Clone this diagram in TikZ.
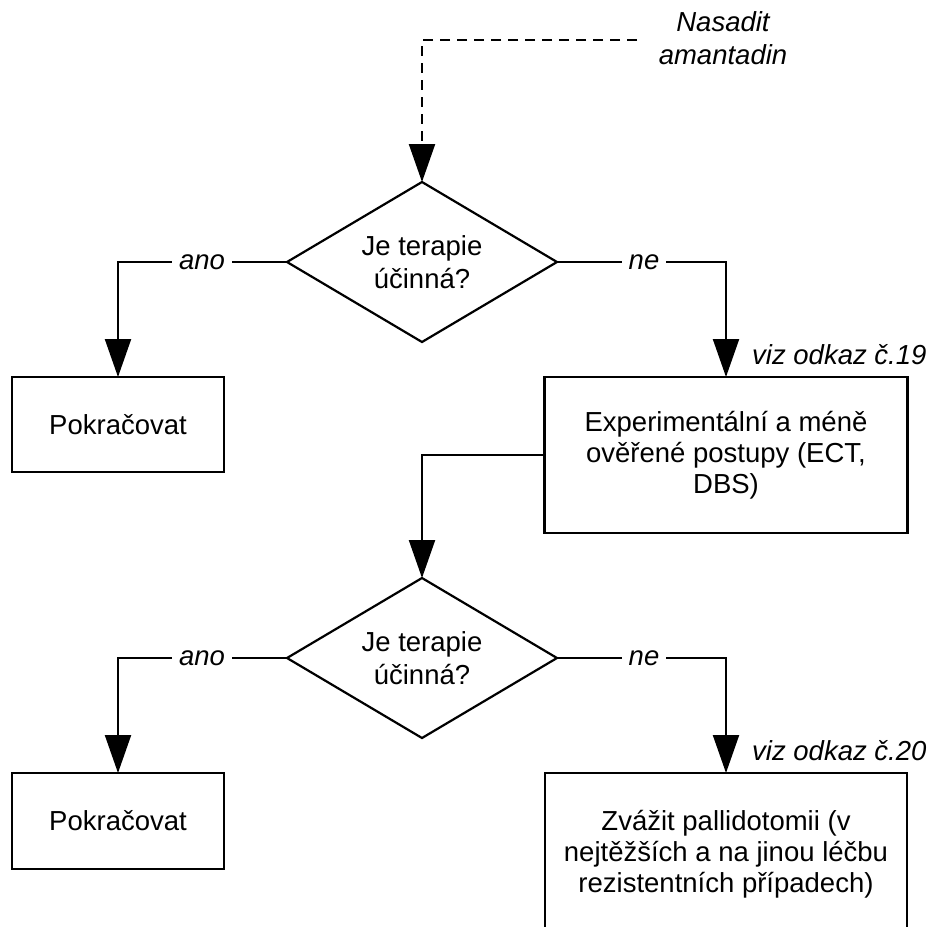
\documentclass[tikz,border=0pt]{standalone}
\usepackage{fontspec}
\setmainfont{Liberation Sans}
\usetikzlibrary{shapes.geometric,arrows.meta}
\begin{document}
\begin{tikzpicture}[x=1pt,y=-1pt,
  every node/.style={font=\fontsize{27.5}{33}\selectfont},
  box/.style={draw, line width=2.4pt, rectangle, align=center, inner sep=0pt, outer sep=0pt, font=\fontsize{27.5}{31}\selectfont},
  decision/.style={draw, line width=2.2pt, diamond, aspect=1.6875, minimum width=270pt, minimum height=160pt, inner sep=0pt, outer sep=0pt, align=center},
  conn/.style={line width=2.2pt, -{Triangle[length=38pt,width=26pt]}},
  lbl/.style={fill=white, inner xsep=7pt, inner ysep=2pt, font=\fontsize{27.5}{33}\selectfont\itshape},
  note/.style={font=\fontsize{27.5}{33}\selectfont\itshape, align=center, inner sep=0pt}
]
\path[use as bounding box, clip] (0,0) rectangle (931,926);

% nodes
\node[note] (start) at (723,38) {Nasadit\\amantadin};
\coordinate (s0) at (637,40);
\node[decision] (d1) at (422,262) {Je terapie\\účinná?};
\node[box, minimum width=212pt, minimum height=95pt] (p1) at (118,424.5) {Pokračovat};
\node[box, minimum width=363pt, minimum height=156pt] (e1) at (726,455) {Experimentální a méně\\ověřené postupy (ECT,\\DBS)};
\node[decision] (d2) at (422,658) {Je terapie\\účinná?};
\node[box, minimum width=212pt, minimum height=96pt] (p2) at (118,821) {Pokračovat};
\node[box, minimum width=362pt, minimum height=162pt] (z1) at (726,854) {Zvážit pallidotomii (v\\nejtěžších a na jinou léčbu\\rezistentních případech)};

% connectors
\draw[conn, dash pattern=on 10pt off 7pt] (s0) -| (d1.north);
\draw[conn] (d1.west) -| (p1.north);
\draw[conn] (d1.east) -| (e1.north);
\draw[conn] (e1.west) -| (d2.north);
\draw[conn] (d2.west) -| (p2.north);
\draw[conn] (d2.east) -| (z1.north);

% labels
\node[lbl] (a1) at (202,262) {ano};
\node[lbl] (n1) at (644,262) {ne};
\node[lbl] (a2) at (202,658) {ano};
\node[lbl] (n2) at (644,658) {ne};
\node[note, anchor=west] (v1) at (752,355) {viz odkaz č.19};
\node[note, anchor=west] (v2) at (752,751) {viz odkaz č.20};
\end{tikzpicture}
\end{document}
